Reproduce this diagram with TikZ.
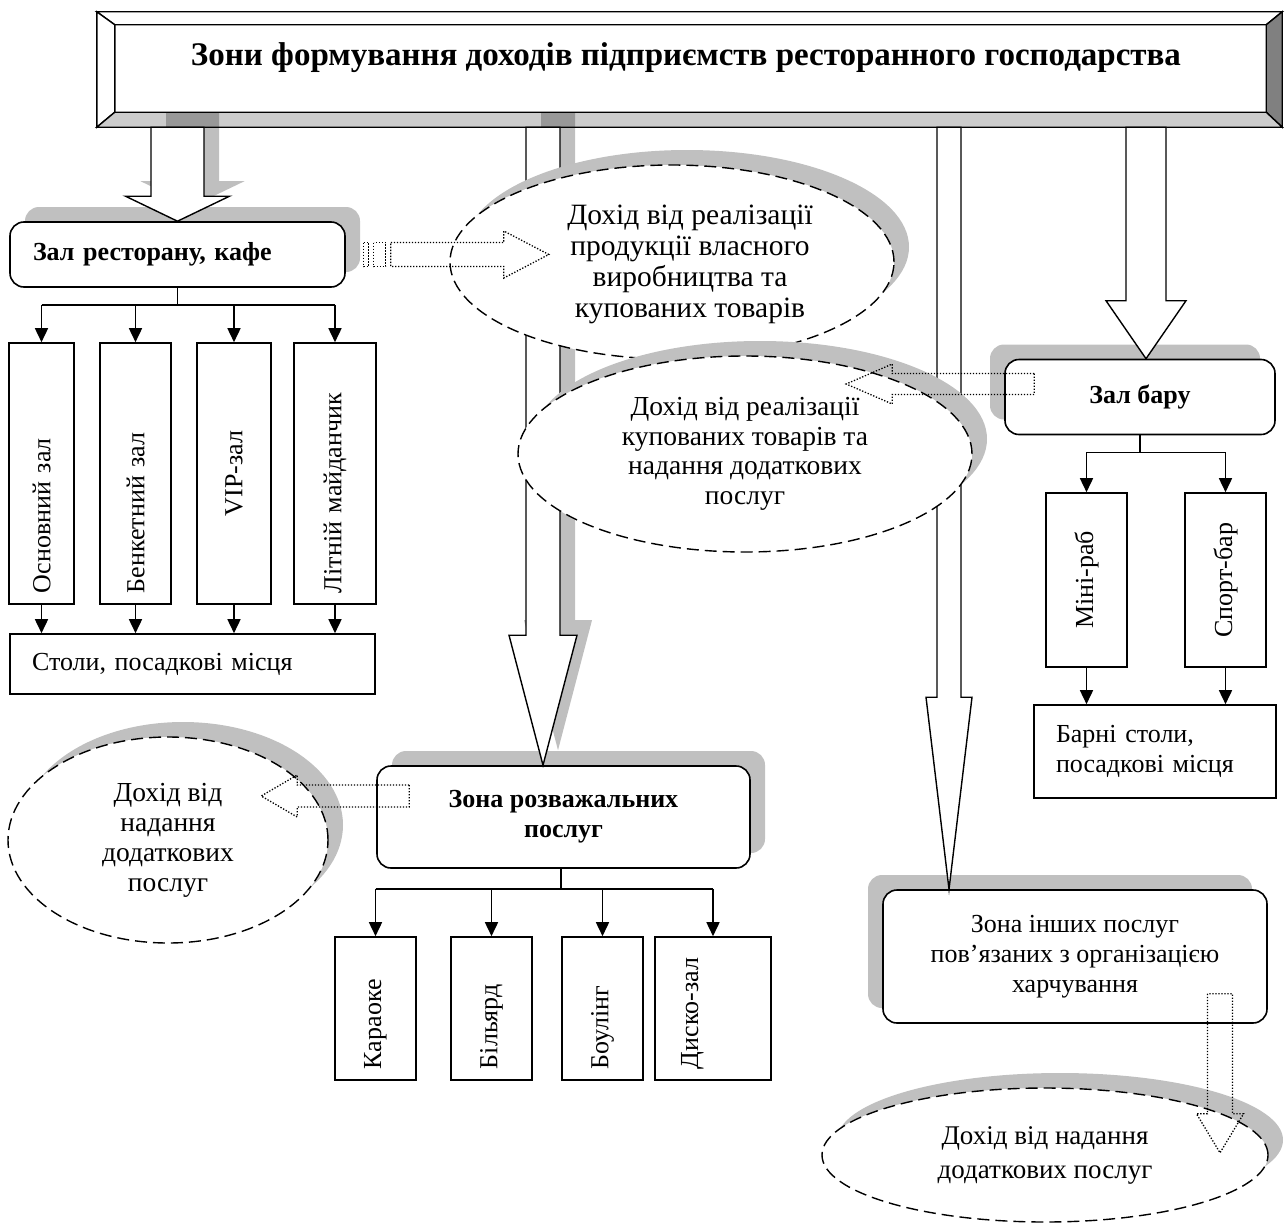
\documentclass[tikz,border=0pt]{standalone}
\usepackage{fontspec}
\setmainfont{Liberation Serif}
\usepackage{tikz}
\usetikzlibrary{positioning,arrows.meta,shapes.geometric,shadows,calc}
\definecolor{shadowgray}{RGB}{192,192,192}
\definecolor{bevelgray}{RGB}{204,204,204}
\definecolor{beveldark}{RGB}{128,128,128}

\newcommand{\txt}{\fontsize{26}{30}\selectfont}
\newcommand{\inc}{\fontsize{27.5}{29.5}\selectfont}
\newcommand{\ttl}{\fontsize{33}{36}\selectfont\bfseries}

% block arrow pointing down: style, tip, half shaft, half head, head length, start
\newcommand{\vblock}[6]{%
  \path[#1] let \p1=(#6), \p2=(#2) in
    ({\x2-#3},{\y1}) -- ({\x2-#3},{\y2+#5}) -- ({\x2-#4},{\y2+#5}) -- (\x2,\y2)
    -- ({\x2+#4},{\y2+#5}) -- ({\x2+#3},{\y2+#5}) -- ({\x2+#3},{\y1}) -- cycle;}
% block arrow left/right: style, tip, half shaft, half head, head length (signed), start
\newcommand{\hblock}[6]{%
  \path[#1] let \p1=(#6), \p2=(#2) in
    ({\x1},{\y2+#3}) -- ({\x2-#5},{\y2+#3}) -- ({\x2-#5},{\y2+#4}) -- (\x2,\y2)
    -- ({\x2-#5},{\y2-#4}) -- ({\x2-#5},{\y2-#3}) -- ({\x1},{\y2-#3}) -- cycle;}

\tikzset{
  shadowL/.style={drop shadow={shadow xshift=-15pt,shadow yshift=15pt,fill=shadowgray,opacity=1}},
  shadowR/.style={drop shadow={shadow xshift=15pt,shadow yshift=15pt,fill=shadowgray,opacity=1}},
  zone/.style={draw,line width=1.6pt,rounded corners=14pt,fill=white,inner sep=0pt,font=\txt,align=center},
  unit/.style={draw,line width=1.6pt,fill=white,inner sep=0pt,font=\txt,rotate=90,align=center},
  seat/.style={draw,line width=1.6pt,fill=white,inner ysep=0pt,font=\txt,align=left},
  income/.style={ellipse,draw,line width=1.4pt,dash pattern=on 12pt off 6pt,fill=white,inner sep=0pt,font=\inc,align=center,shadowR},
  bevel/.style={draw,line width=1.4pt,line join=miter},
  conn/.style={line width=1.6pt},
  arr/.style={conn,-{Triangle[length=14pt,width=13pt]}},
  bigarrow/.style={draw,line width=1.4pt,fill=white,line join=miter},
  arrshadow/.style={fill=black,fill opacity=0.25},
  dotline/.style={draw,line width=1.3pt,dash pattern=on 1.3pt off 1.7pt}
}

\begin{document}
\begin{tikzpicture}[x=1pt,y=-1pt]
\useasboundingbox (0,0) rectangle (1287,1223);

% Title
\node[minimum width=1185pt,minimum height=115pt,inner sep=0pt] (title) at (689.5,69.5) {};
\coordinate (ti1) at ([shift={(18,13)}]title.north west);
\coordinate (ti2) at ([shift={(-16,-15)}]title.south east);
\draw[bevel,fill=white] (title.north west) -- (title.north east) -- (ti2 |- ti1) -- (ti1) -- cycle;
\draw[bevel,fill=white] (title.north west) -- (ti1) -- (ti1 |- ti2) -- (title.south west) -- cycle;
\draw[bevel,fill=beveldark] (title.north east) -- (title.south east) -- (ti2) -- (ti2 |- ti1) -- cycle;
\draw[bevel,fill=bevelgray] (title.south west) -- (ti1 |- ti2) -- (ti2) -- (title.south east) -- cycle;
\node[font=\ttl] (titletxt) at (686,58) {Зони формування доходів підприємств ресторанного господарства};

% Zones
\node[zone,shadowR,minimum width=335pt,minimum height=65pt,text width=289pt,inner xsep=23pt,align=left,font=\txt\bfseries] (zrest) at (177.5,254.5) {Зал ресторану, кафе};
\node[zone,shadowL,minimum width=270pt,minimum height=75pt,font=\txt\bfseries] (zbar) at (1140,397) {Зал бару};
\node[zone,shadowR,minimum width=373pt,minimum height=102pt,font=\txt\bfseries] (zrozv) at (563.5,817) {Зона розважальних\\послуг};
\node[zone,shadowL,minimum width=384pt,minimum height=133pt] (zinsh) at (1075,956.5) {Зона інших послуг\\пов’язаних з організацією\\харчування};

% Arrows from the title
\coordinate (t1) at (zrest.north);
\coordinate (t2) at ([xshift=-20.5pt]zrozv.north);
\coordinate (t3) at ([xshift=-126pt]zinsh.north);
\coordinate (t4) at ([xshift=6pt]zbar.north);
\begin{scope}[transform canvas={shift={(15pt,15pt)}}]
\vblock{arrshadow}{t1}{26.5}{52}{25}{title.south -| t1}
\vblock{arrshadow}{t2}{17}{34}{130}{title.south -| t2}
\end{scope}
\vblock{bigarrow}{t1}{26.5}{52}{25}{title.south -| t1}
\vblock{bigarrow}{t2}{17}{34}{130}{title.south -| t2}
\vblock{bigarrow}{t3}{12}{23}{192}{title.south -| t3}
\vblock{bigarrow}{t4}{20}{40}{58}{title.south -| t4}

% Incomes
\node[income,minimum width=444pt,minimum height=194pt,
  label={[font=\fontsize{29.5}{31}\selectfont,align=center,xshift=18pt,yshift=-2pt]center:{Дохід від реалізації\\продукції власного\\виробництва та\\купованих товарів}}] (e1) at (672,262) {};
\node[income,minimum width=454pt,minimum height=196pt] (e2) at (745,454) {Дохід від реалізації\\купованих товарів та\\надання додаткових\\послуг};
\node[income,minimum width=320pt,minimum height=206pt,font=\fontsize{27.5}{30}\selectfont] (e3) at (168,840) {Дохід від\\надання\\додаткових\\послуг};
\node[income,minimum width=446pt,minimum height=134pt,font=\fontsize{27}{34}\selectfont] (e4) at (1045,1155) {Дохід від надання\\додаткових послуг};

% Restaurant hall
\node[unit,minimum width=261pt,minimum height=65pt,text width=239pt,align=left] (osn) at (41.5,473.5) {Основний зал};
\node[unit,minimum width=261pt,minimum height=71pt,text width=239pt,align=left] (benk) at (135.5,473.5) {Бенкетний зал};
\node[unit,minimum width=261pt,minimum height=74pt] (vip) at (234,473.5) {VIP-зал};
\node[unit,minimum width=261pt,minimum height=82pt,text width=239pt,align=left] (lit) at (335,473.5) {Літній майданчик};
\node[seat,minimum width=365pt,minimum height=60pt,text width=321pt,inner xsep=22pt] (stoly) at (192.5,664) {Столи, посадкові місця};
\draw[conn] (zrest.south) -- ++(0,17) coordinate (j1);
\draw[conn] (j1 -| osn) -- (j1 -| lit);
\foreach \u in {osn,benk,vip,lit} {
    \draw[arr] (j1 -| \u) -- (\u.east);
    \draw[arr] (\u.west) -- (\u.west |- stoly.north);
}

% Bar
\node[unit,minimum width=174pt,minimum height=81pt] (mini) at (1086.5,580) {Міні-раб};
\node[unit,minimum width=174pt,minimum height=81pt] (sport) at (1225.5,580) {Спорт-бар};
\node[seat,minimum width=242pt,minimum height=93pt,text width=198pt,inner xsep=22pt] (barni) at (1155,751.5) {Барні столи,\\посадкові місця};
\draw[conn] (zbar.south) -- ++(0,17) coordinate (j2);
\draw[conn] (j2 -| mini) -- (j2 -| sport);
\foreach \u in {mini,sport} {
    \draw[arr] (j2 -| \u) -- (\u.east);
    \draw[arr] (\u.west) -- (\u.west |- barni.north);
}

% Entertainment
\node[unit,minimum width=143pt,minimum height=81pt,text width=121pt,align=left] (kar) at (375.5,1008.5) {Караоке};
\node[unit,minimum width=143pt,minimum height=81pt,text width=121pt,align=left] (bil) at (491.5,1008.5) {Більярд};
\node[unit,minimum width=143pt,minimum height=81pt,text width=121pt,align=left] (boul) at (602.5,1008.5) {Боулінг};
\node[unit,minimum width=143pt,minimum height=116pt,text width=121pt,align=left,text height=18pt,text depth=48pt] (disko) at (713,1008.5) {Диско-зал};
\draw[conn] ([xshift=-2.5pt]zrozv.south) -- ++(0,20) coordinate (j3);
\draw[conn] (j3 -| kar) -- (j3 -| disko);
\foreach \u in {kar,bil,boul,disko} {
    \draw[arr] (j3 -| \u) -- (\u.east);
}

% Dotted arrows to incomes
\coordinate (d1s) at ([xshift=18pt]zrest.east);
\coordinate (d1t) at ([xshift=185pt]d1s);
\draw[dotline] ([yshift=12pt]d1s) rectangle ([shift={(5,12)}]d1s);
\draw[dotline] ([shift={(10,-12)}]d1s) rectangle ([shift={(22,12)}]d1s);
\hblock{dotline}{d1t}{12}{23.5}{45}{[xshift=27pt]d1s}
\coordinate (d2s) at ([shift={(30,-13)}]zbar.west);
\coordinate (d2t) at ([xshift=-188pt]d2s);
\hblock{dotline}{d2t}{10.5}{20}{(-46)}{d2s}
\coordinate (d3s) at ([shift={(33,-21)}]zrozv.west);
\coordinate (d3t) at ([xshift=-148pt]d3s);
\hblock{dotline}{d3t}{11}{21}{(-36)}{d3s}
\coordinate (d4s) at ([shift={(145,-30)}]zinsh.south);
\coordinate (d4t) at ([yshift=-159pt]d4s);
\vblock{dotline}{d4t}{12.5}{23.5}{39}{d4s}
\end{tikzpicture}
\end{document}
